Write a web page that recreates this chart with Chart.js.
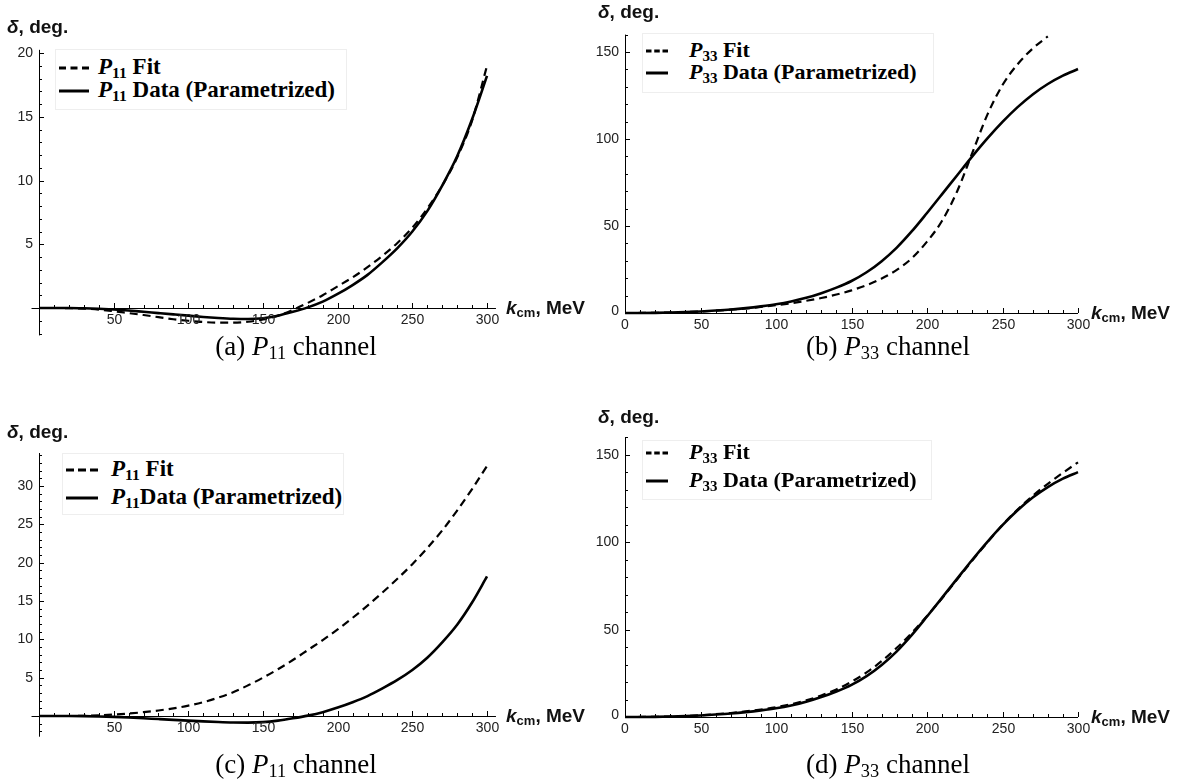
<!DOCTYPE html>
<html>
<head>
<meta charset="utf-8">
<script src="https://cdn.jsdelivr.net/npm/chart.js@4.4.1/dist/chart.umd.min.js"></script>
<style>
  body { margin: 0; width: 1184px; height: 780px; background: #fff; position: relative; overflow: hidden; }
  .panel { position: absolute; width: 592px; height: 390px; }
  .ylab, .xlab { position: absolute; font: bold 19px "Liberation Sans", Arial, sans-serif; color: #111; white-space: nowrap; }
  .xlab sub { font-size: 13px; vertical-align: -3px; line-height: 0; }
  .legend { position: absolute; background: #fff; border: 1px solid #eee; }
  .row { position: absolute; left: 0; white-space: nowrap; font: bold 23px "Liberation Serif", "Times New Roman", serif; color: #000; line-height: 24px; }
  .row svg { position: absolute; top: 10px; }
  .row span { position: absolute; top: -1px; }
  .row sub, .cap sub { font-size: 0.68em; vertical-align: -4px; line-height: 0; }
  .cap { position: absolute; width: 592px; text-align: center; font: 27px "Liberation Serif", "Times New Roman", serif; color: #000; }
</style>
</head>
<body>

<div class="panel" style="left:0;top:0"><canvas id="chartA" width="592" height="390"></canvas></div>
<div class="panel" style="left:592px;top:0"><canvas id="chartB" width="592" height="390"></canvas></div>
<div class="panel" style="left:0;top:390px"><canvas id="chartC" width="592" height="390"></canvas></div>
<div class="panel" style="left:592px;top:390px"><canvas id="chartD" width="592" height="390"></canvas></div>

<!-- axis titles -->
<div class="ylab" style="left:7px;top:16px"><i>δ</i>, deg.</div>
<div class="ylab" style="left:598px;top:1px"><i>δ</i>, deg.</div>
<div class="ylab" style="left:7px;top:421px"><i>δ</i>, deg.</div>
<div class="ylab" style="left:598px;top:406px"><i>δ</i>, deg.</div>

<div class="xlab" style="left:506px;top:297px"><i>k</i><sub>cm</sub>, MeV</div>
<div class="xlab" style="left:1091px;top:302px"><i>k</i><sub>cm</sub>, MeV</div>
<div class="xlab" style="left:506px;top:705px"><i>k</i><sub>cm</sub>, MeV</div>
<div class="xlab" style="left:1091px;top:706px"><i>k</i><sub>cm</sub>, MeV</div>

<!-- legends -->
<div class="legend" style="left:55px;top:49px;width:290px;height:59px">
  <div class="row" style="top:6px"><svg width="34" height="4" style="left:3px"><line x1="0" y1="2" x2="30" y2="2" stroke="#000" stroke-width="3" stroke-dasharray="7,4.5"/></svg><span style="left:42px"><i>P</i><sub>11</sub> Fit</span></div>
  <div class="row" style="top:29px"><svg width="34" height="4" style="left:3px"><line x1="0" y1="2" x2="30" y2="2" stroke="#000" stroke-width="3"/></svg><span style="left:42px"><i>P</i><sub>11</sub> Data (Parametrized)</span></div>
</div>
<div class="legend" style="left:642px;top:33px;width:290px;height:58px">
  <div class="row" style="top:5px;font-size:22px"><svg width="26" height="4" style="left:3px"><line x1="0" y1="2" x2="22" y2="2" stroke="#000" stroke-width="3" stroke-dasharray="5.5,2.75"/></svg><span style="left:46px"><i>P</i><sub>33</sub> Fit</span></div>
  <div class="row" style="top:27px;font-size:22px"><svg width="26" height="4" style="left:3px"><line x1="0" y1="2" x2="22" y2="2" stroke="#000" stroke-width="3"/></svg><span style="left:46px"><i>P</i><sub>33</sub> Data (Parametrized)</span></div>
</div>
<div class="legend" style="left:62px;top:453px;width:280px;height:60px">
  <div class="row" style="top:4px"><svg width="36" height="4" style="left:3px"><line x1="0" y1="2" x2="32" y2="2" stroke="#000" stroke-width="3" stroke-dasharray="8,4"/></svg><span style="left:48px"><i>P</i><sub>11</sub> Fit</span></div>
  <div class="row" style="top:32px"><svg width="36" height="4" style="left:3px"><line x1="0" y1="2" x2="32" y2="2" stroke="#000" stroke-width="3"/></svg><span style="left:48px"><i>P</i><sub>11</sub>Data (Parametrized)</span></div>
</div>
<div class="legend" style="left:642px;top:440px;width:288px;height:58px">
  <div class="row" style="top:0px;font-size:22px"><svg width="26" height="4" style="left:3px"><line x1="0" y1="2" x2="22" y2="2" stroke="#000" stroke-width="3" stroke-dasharray="5.5,2.75"/></svg><span style="left:46px"><i>P</i><sub>33</sub> Fit</span></div>
  <div class="row" style="top:28px;font-size:22px"><svg width="26" height="4" style="left:3px"><line x1="0" y1="2" x2="22" y2="2" stroke="#000" stroke-width="3"/></svg><span style="left:46px"><i>P</i><sub>33</sub> Data (Parametrized)</span></div>
</div>

<!-- captions -->
<div class="cap" style="left:0;top:331px">(a) <i>P</i><sub>11</sub> channel</div>
<div class="cap" style="left:592px;top:331px">(b) <i>P</i><sub>33</sub> channel</div>
<div class="cap" style="left:0;top:749px">(c) <i>P</i><sub>11</sub> channel</div>
<div class="cap" style="left:592px;top:749px">(d) <i>P</i><sub>33</sub> channel</div>

<script>
// k_cm grid, MeV
const kGrid = [0, 10, 20, 30, 40, 50, 60, 70, 80, 90, 100, 110, 120, 130, 140, 150,
               160, 170, 180, 190, 200, 210, 220, 230, 240, 250, 260, 270, 280, 290, 300];
const kFitB = kGrid.slice(0, 29); // fit in (b) runs off the top at ~280

// P11 phase shifts, deg.
const p11Data = [0, 0, 0, -0.02, -0.06, -0.12, -0.2, -0.3, -0.4, -0.5, -0.6, -0.7, -0.78, -0.84, -0.86, -0.8,
                 -0.6, -0.3, 0.05, 0.5, 1.1, 1.8, 2.6, 3.6, 4.7, 6.0, 7.6, 9.6, 11.9, 14.8, 18.2];
const p11FitA = [0, 0, -0.01, -0.05, -0.12, -0.25, -0.4, -0.55, -0.72, -0.88, -1.0, -1.1, -1.15, -1.15, -1.08, -0.9,
                 -0.6, -0.15, 0.4, 1.0, 1.7, 2.4, 3.2, 4.1, 5.1, 6.3, 7.8, 9.6, 11.8, 14.7, 19.0];
const p11FitC = [0, 0, 0, 0.02, 0.08, 0.18, 0.32, 0.5, 0.72, 1.0, 1.35, 1.8, 2.4, 3.1, 4.0, 5.0,
                 6.1, 7.3, 8.6, 9.9, 11.3, 12.8, 14.4, 16.1, 17.9, 19.8, 21.9, 24.2, 26.8, 29.6, 32.6];

// P33 phase shifts, deg.
const p33Data = [0, 0.02, 0.1, 0.25, 0.5, 0.9, 1.4, 2.0, 2.8, 3.8, 5.0, 6.6, 8.7, 11.4, 14.6, 18.4,
                 23.4, 29.8, 37.6, 47.0, 57.5, 68.3, 79.2, 90.0, 100.3, 109.8, 118.3, 125.6, 131.6, 136.4, 140.2];
const p33FitB = [0, 0.02, 0.1, 0.25, 0.5, 0.85, 1.3, 1.9, 2.6, 3.5, 4.5, 5.6, 7.0, 8.6, 10.6, 13.0,
                 16.0, 19.8, 24.8, 31.5, 41, 53, 70, 92, 114, 131, 143, 152, 159];
const p33FitD = [0, 0.02, 0.1, 0.28, 0.55, 1.0, 1.6, 2.3, 3.2, 4.3, 5.6, 7.3, 9.5, 12.3, 15.8, 20.2,
                 25.5, 32, 39.6, 48.2, 57.8, 68, 78.8, 89.6, 100, 110, 118.8, 126.6, 133.5, 139.8, 145.8];

function points(xs, ys) {
    return xs.map(function (x, i) { return { x: x, y: ys[i] }; });
}

// Mathematica-like axes: crossing at the origin, ticks pointing inward
var mathAxes = {
    id: 'mathAxes',
    afterDraw: function (chart) {
        var o = chart.options.plugins.mathAxes;
        var sx = chart.scales.x, sy = chart.scales.y;
        var ctx = chart.ctx;
        var X0 = sx.getPixelForValue(0), Y0 = sy.getPixelForValue(0);
        ctx.save();
        ctx.strokeStyle = '#000';
        ctx.lineWidth = 1;
        ctx.beginPath();
        ctx.moveTo(X0 + 0.5, sy.getPixelForValue(o.ymin));
        ctx.lineTo(X0 + 0.5, sy.getPixelForValue(o.ymax));
        ctx.moveTo(sx.getPixelForValue(o.xmin), Y0 + 0.5);
        ctx.lineTo(sx.getPixelForValue(o.xmax), Y0 + 0.5);
        ctx.stroke();

        ctx.font = '14px "Liberation Sans", Arial, sans-serif';
        ctx.fillStyle = '#222';

        // y ticks
        ctx.textAlign = 'right';
        ctx.textBaseline = 'middle';
        var i, v, p, major;
        for (i = Math.ceil(o.ymin / o.yMinor); i * o.yMinor <= o.ymax + 1e-9; i++) {
            v = i * o.yMinor;
            if (v === 0) continue;
            p = Math.round(sy.getPixelForValue(v)) + 0.5;
            major = (i % Math.round(o.yMajor / o.yMinor)) === 0;
            ctx.beginPath();
            ctx.moveTo(X0, p);
            ctx.lineTo(X0 + (major ? 5 : 3), p);
            ctx.stroke();
            if (major) ctx.fillText(String(v), X0 - 6, p);
        }
        if (o.labelZero) ctx.fillText('0', X0 - 6, Y0 - 2);

        // x ticks
        ctx.textAlign = 'center';
        ctx.textBaseline = 'top';
        for (i = Math.ceil(o.xmin / o.xMinor); i * o.xMinor <= o.xmax + 1e-9; i++) {
            v = i * o.xMinor;
            if (v === 0) continue;
            p = Math.round(sx.getPixelForValue(v)) + 0.5;
            major = (i % Math.round(o.xMajor / o.xMinor)) === 0;
            ctx.beginPath();
            ctx.moveTo(p, Y0);
            ctx.lineTo(p, Y0 - (major ? 5 : 3));
            ctx.stroke();
            if (major) ctx.fillText(String(v), p, Y0 + 5);
        }
        if (o.labelZero) ctx.fillText('0', X0, Y0 + 5);
        ctx.restore();
    }
};

// frame: page pixel of k=0 and delta=0 plus pixels per unit; canvas offset
function makePanel(canvasId, frame, axes, datasets) {
    var left = frame.x0 + axes.xmin * frame.xs - frame.cx;
    var right = 592 - (frame.x0 + axes.xmax * frame.xs - frame.cx);
    var top = frame.y0 - axes.ymax * frame.ys - frame.cy;
    var bottom = 390 - (frame.y0 - axes.ymin * frame.ys - frame.cy);

    return new Chart(document.getElementById(canvasId), {
        type: 'line',
        data: {
            datasets: datasets.map(function (ds) {
                return {
                    label: ds.label,
                    data: ds.data,
                    borderColor: '#000',
                    borderWidth: ds.dashed ? 2.2 : 2.6,
                    borderDash: ds.dashed ? [8, 5] : [],
                    pointRadius: 0,
                    fill: false,
                    clip: false,
                    cubicInterpolationMode: 'monotone'
                };
            })
        },
        options: {
            responsive: false,
            animation: false,
            layout: { padding: { left: left, right: right, top: top, bottom: bottom } },
            scales: {
                x: { type: 'linear', min: axes.xmin, max: axes.xmax, display: false },
                y: { type: 'linear', min: axes.ymin, max: axes.ymax, display: false }
            },
            plugins: {
                legend: { display: false },
                tooltip: { enabled: false },
                mathAxes: axes
            }
        },
        plugins: [mathAxes]
    });
}

makePanel('chartA',
    { cx: 0, cy: 0, x0: 39, xs: 448 / 300, y0: 308, ys: 12.75 },
    { xmin: -5, xmax: 306, ymin: -2.15, ymax: 20.25, xMajor: 50, xMinor: 10, yMajor: 5, yMinor: 1, labelZero: false },
    [
        { label: 'P11 Fit', data: points(kGrid, p11FitA), dashed: true },
        { label: 'P11 Data (Parametrized)', data: points(kGrid, p11Data) }
    ]);

makePanel('chartB',
    { cx: 592, cy: 0, x0: 625, xs: 453 / 300, y0: 313, ys: 1.74 },
    { xmin: 0, xmax: 300, ymin: 0, ymax: 160, xMajor: 50, xMinor: 10, yMajor: 50, yMinor: 10, labelZero: true },
    [
        { label: 'P33 Fit', data: points(kFitB, p33FitB), dashed: true },
        { label: 'P33 Data (Parametrized)', data: points(kGrid, p33Data) }
    ]);

makePanel('chartC',
    { cx: 0, cy: 390, x0: 39, xs: 448 / 300, y0: 716, ys: 7.667 },
    { xmin: -5, xmax: 306, ymin: -2.7, ymax: 34.3, xMajor: 50, xMinor: 10, yMajor: 5, yMinor: 1, labelZero: false },
    [
        { label: 'P11 Fit', data: points(kGrid, p11FitC), dashed: true },
        { label: 'P11Data (Parametrized)', data: points(kGrid, p11Data) }
    ]);

makePanel('chartD',
    { cx: 592, cy: 390, x0: 625, xs: 453 / 300, y0: 717, ys: 1.747 },
    { xmin: 0, xmax: 300, ymin: 0, ymax: 160, xMajor: 50, xMinor: 10, yMajor: 50, yMinor: 10, labelZero: true },
    [
        { label: 'P33 Fit', data: points(kGrid, p33FitD), dashed: true },
        { label: 'P33 Data (Parametrized)', data: points(kGrid, p33Data) }
    ]);
</script>
</body>
</html>
